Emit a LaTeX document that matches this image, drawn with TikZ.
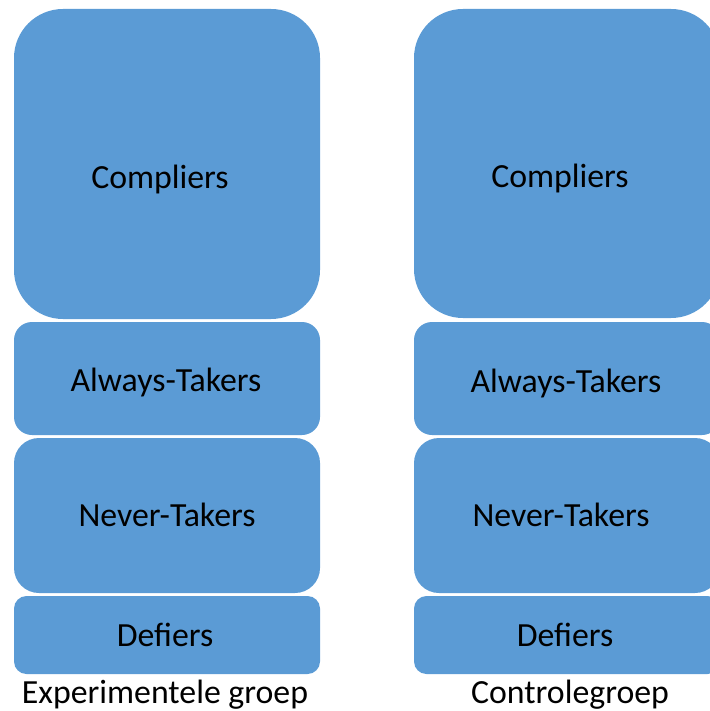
\documentclass[tikz,border=0pt]{standalone}
\usepackage{fontspec}
\setmainfont{Carlito}
\definecolor{boxblue}{HTML}{5B9BD5}
\begin{document}
\begin{tikzpicture}[x=1pt,y=-1pt,
  grp/.style={fill=boxblue, draw=none},
  lbl/.style={font=\fontsize{33.8}{37}\selectfont, text=black, inner sep=0pt, anchor=base}]
\useasboundingbox (0,0) rectangle (709,711);
% left column
\fill[boxblue, rounded corners=49] (14,9) rectangle (320,319);
\fill[boxblue, rounded corners=18] (14,322) rectangle (320,435);
\fill[boxblue, rounded corners=25] (14,438) rectangle (320,593);
\fill[boxblue, rounded corners=12.5] (14,596) rectangle (320,674);
% right column
\fill[boxblue, rounded corners=49] (414,9) rectangle (720,318);
\fill[boxblue, rounded corners=18] (414,322) rectangle (720,435);
\fill[boxblue, rounded corners=25] (414,438) rectangle (720,593);
\fill[boxblue, rounded corners=12.5] (414,596) rectangle (720,674);
% labels
\node[lbl] (lc) at (160,189) {Compliers};
\node[lbl] (la) at (166,391) {Always-Takers};
\node[lbl] (ln) at (167,526) {Never-Takers};
\node[lbl] (ld) at (165,646) {Defiers};
\node[lbl] (rc) at (560,188) {Compliers};
\node[lbl] (ra) at (566,392) {Always-Takers};
\node[lbl] (rn) at (561,526) {Never-Takers};
\node[lbl] (rd) at (565,646) {Defiers};
\node[lbl] (le) at (165,703) {Experimentele groep};
\node[lbl] (re) at (570,703) {Controlegroep};
\end{tikzpicture}
\end{document}
